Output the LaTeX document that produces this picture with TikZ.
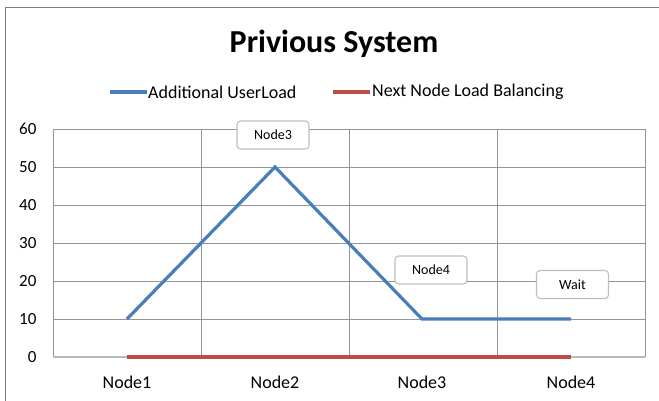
\documentclass[tikz,border=0pt]{standalone}
\usepackage{fontspec}
\setmainfont{Carlito}
\definecolor{serblue}{HTML}{4A7EBB}
\definecolor{serred}{HTML}{BE4B48}
\definecolor{gridc}{HTML}{959595}
\definecolor{framec}{HTML}{7F7F7F}
\tikzset{
  grid line/.style={draw=gridc, line width=0.9pt},
  series/.style={line width=3.2pt, line join=miter},
  callout/.style={draw=black!25, line width=1.1pt, rounded corners=3.5pt, fill=white, minimum width=72pt, minimum height=28pt, inner sep=0pt, font=\fontsize{14}{15}\selectfont},
  ytick/.style={anchor=east, font=\fontsize{17}{18}\selectfont},
  xtick/.style={font=\fontsize{18}{19}\selectfont},
  legendtext/.style={anchor=west, inner sep=0pt, font=\fontsize{18}{19}\selectfont},
}
\begin{document}
\begin{tikzpicture}[x=1pt,y=-1pt]
\useasboundingbox (0,0) rectangle (659,401);
\fill[white] (0,0) rectangle (659,401);
% chart frame
\draw[framec, line width=1.6pt] (5.5,402) -- (5.5,7.5) -- (660,7.5);
% title
\node[font=\fontsize{32}{34}\selectfont\bfseries] (title) at (334,44) {Privious System};
% legend
\coordinate (lb1) at (110,92);
\coordinate (lb2) at (147,92);
\draw[serblue, line width=3.2pt] (lb1) -- (lb2);
\node[legendtext] (lt1) at (148,92) {Additional UserLoad};
\coordinate (lr1) at (333,92);
\coordinate (lr2) at (370,92);
\draw[serred, line width=3.2pt] (lr1) -- (lr2);
\node[legendtext] (lt2) at (372,92) {Next Node Load Balancing};
% grid
\foreach \v in {10,20,30,40,50,60} {
  \draw[grid line] (53,{357-3.8*\v}) -- (645,{357-3.8*\v});
}
\foreach \x in {53,201,349,497,645} {
  \draw[grid line] (\x,129) -- (\x,357);
}
\draw[draw=black!28, line width=1.2pt] (53,357) -- (645,357);
% y labels
\foreach \v in {0,10,20,30,40,50,60} {
  \node[ytick] (y\v) at (40,{357-3.8*\v}) {\v};
}
% x labels
\node[xtick] (c1) at (127,382) {Node1};
\node[xtick] (c2) at (275,382) {Node2};
\node[xtick] (c3) at (422,382) {Node3};
\node[xtick] (c4) at (571,382) {Node4};
% data points
\coordinate (b1) at (127,319);
\coordinate (b2) at (275,167);
\coordinate (b3) at (422,319);
\coordinate (b4) at (571,319);
\coordinate (r1) at (127,357);
\coordinate (r4) at (571,357);
\draw[serred, series] (r1) -- (r4);
\draw[serblue, series] (b1) -- (b2) -- (b3) -- (b4);
% callouts
\node[callout] (l3) at (273,135) {Node3};
\node[callout] (l4) at (431,270) {Node4};
\node[callout] (lw) at (572.5,284.5) {Wait};
\end{tikzpicture}
\end{document}
